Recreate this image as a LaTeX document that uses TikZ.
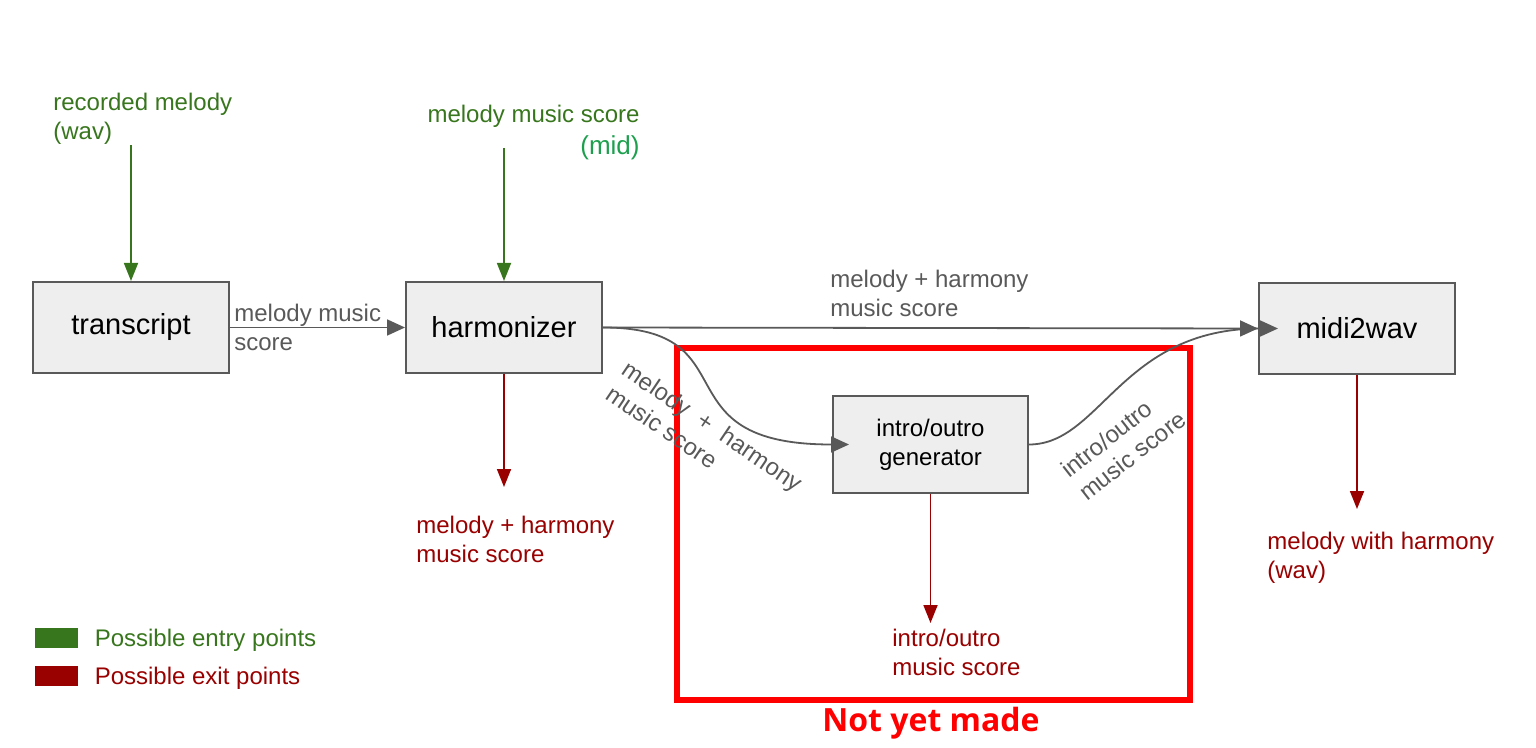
\documentclass[tikz,border=0pt]{standalone}
\usepackage{fontspec}
\setmainfont{Liberation Sans}
\newfontfamily\opensans{Open Sans}
\usetikzlibrary{arrows.meta,positioning}
\definecolor{entry}{HTML}{38761D}
\definecolor{exit}{HTML}{990000}
\definecolor{midgreen}{HTML}{1DA04E}
\definecolor{linegray}{HTML}{595959}
\definecolor{boxfill}{HTML}{EEEEEE}
\definecolor{notmade}{HTML}{FF0000}

\begin{document}
\begin{tikzpicture}[x=0.5pt,y=-0.5pt,
  box/.style={draw=linegray,fill=boxfill,line width=1pt,minimum width=98pt,minimum height=45.5pt,inner sep=0pt,font=\fontsize{14.5}{17}\selectfont},
  flow/.style={draw=linegray,line width=0.9pt,-{Triangle[length=9pt,width=8pt]}},
  enter/.style={draw=entry,line width=0.9pt,-{Triangle[length=9pt,width=7pt]}},
  leave/.style={draw=exit,line width=0.9pt,-{Triangle[length=9pt,width=7pt]}},
  lbl/.style={text=linegray,align=left,inner sep=0pt,font=\fontsize{12}{14.5}\selectfont},
  entrytext/.style={lbl,text=entry},
  exittext/.style={lbl,text=exit},
  key/.style={minimum width=21.5pt,minimum height=10pt,inner sep=0pt}]
\useasboundingbox (0,0) rectangle (1536,748);

\node[box] (transcript) at (131,327.5) {transcript};
\node[box] (harm) at (504,327.5) {harmonizer};
\node[box] (midi) at (1357,328.5) {midi2wav};
\node[box,minimum width=97.5pt,minimum height=48.5pt,align=center,font=\fontsize{12}{14.5}\selectfont] (intro) at (930.5,444.5) {intro/outro\\generator};

\node[draw=notmade,line width=3pt,minimum width=256.5pt,minimum height=176pt] (todo) at (933.5,524) {};
\node[text=notmade,font=\opensans\bfseries\fontsize{16}{19}\selectfont] (notyet) at (931,723) {Not yet made};

\node[entrytext,anchor=north west] (rec) at (53,93) {recorded melody\\(wav)};
\node[entrytext,anchor=north east,align=right] (score) at (640,105) {melody music score\\[1.5pt]\fontsize{13}{16}\selectfont\color{midgreen}(mid)};
\coordinate (scorein) at (504,148);

\draw[enter] (rec.south -| transcript.north) -- (transcript.north);
\draw[enter] (scorein) -- (harm.north);

\draw[flow] (transcript) -- (harm);
\node[lbl,anchor=west] (tlbl) at ([xshift=2pt]transcript.east) {melody music\\score};
\draw[flow] (harm.east) -- (midi.west);
\node[lbl,anchor=north west] (mlbl) at (830,270) {melody + harmony\\music score};
\draw[flow] (harm.east) .. controls +(150,0) and +(-193,0) .. ([xshift=8.5pt]intro.west);
\node[lbl,rotate=-34,anchor=north west] (ilbl) at (630,359) {melody\ \ +\ \ harmony\\music score};
\draw[flow] (intro.east) .. controls +(72,0) and +(-157,0) .. ([xshift=10pt]midi.west);
\node[lbl,rotate=38,anchor=north west] (olbl) at (1058,465) {intro/outro\\music score};

\coordinate (harmout) at (504,487);
\coordinate (introout) at (930.5,623);
\coordinate (midiout) at (1357,509);
\draw[leave] (harm.south) -- (harmout);
\draw[leave] (intro.south) -- (introout);
\draw[leave] (midi.south) -- (midiout);
\node[exittext,anchor=north west] (hout) at (416,516) {melody + harmony\\music score};
\node[exittext,anchor=north west] (iout) at (892,629) {intro/outro\\music score};
\node[exittext,anchor=north west] (mout) at (1267,532) {melody with harmony\\(wav)};

\node[key,fill=entry] (entrykey) at (56.5,638) {};
\node[entrytext,right=8pt of entrykey,yshift=-1pt] (entrylbl) {Possible entry points};
\node[key,fill=exit] (exitkey) at (56.5,676) {};
\node[exittext,right=8pt of exitkey,yshift=-1pt] (exitlbl) {Possible exit points};
\end{tikzpicture}
\end{document}
